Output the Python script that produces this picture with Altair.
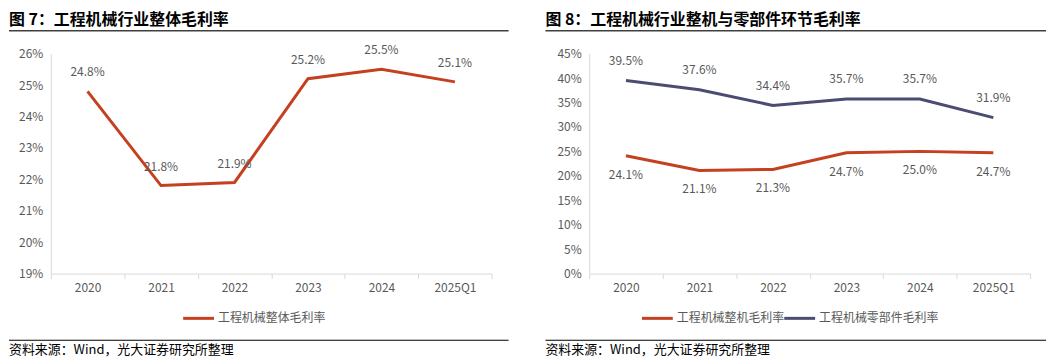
import altair as alt
import pandas as pd

years = ["2020", "2021", "2022", "2023", "2024", "2025Q1"]
overall = [24.8, 21.8, 21.9, 25.2, 25.5, 25.1]
whole_machine = [24.1, 21.1, 21.3, 24.7, 25.0, 24.7]
components = [39.5, 37.6, 34.4, 35.7, 35.7, 31.9]

title_left = "图 7：工程机械行业整体毛利率"
title_right = "图 8：工程机械行业整机与零部件环节毛利率"
source = "资料来源：Wind，光大证券研究所整理"
s_overall = "工程机械整体毛利率"
s_whole = "工程机械整机毛利率"
s_comp = "工程机械零部件毛利率"

RED = "#C5401F"
NAVY = "#4C4C73"
FONT = "Noto Sans CJK SC"
W, H = 443, 221

one = pd.DataFrame({"k": [0]})


def xenc():
    return alt.X("year:N", sort=years, bandPosition=0.5,
                 scale=alt.Scale(type="band", paddingInner=0, paddingOuter=0),
                 axis=alt.Axis(title=None, tickBand="extent", labelAngle=0, tickSize=5,
                               labelPadding=4, labelFontSize=12, labelColor="#595959",
                               domainColor="#D9D9D9", tickColor="#D9D9D9", grid=False,
                               labelFont=FONT, labelOverlap=False))


def yenc(domain, step):
    vals = list(range(domain[0], domain[1] + 1, step))
    return alt.Y("v:Q", scale=alt.Scale(domain=domain, nice=False),
                 axis=alt.Axis(title=None, values=vals, ticks=False, labelPadding=8,
                               labelExpr="datum.value + '%'", labelFontSize=12,
                               labelColor="#595959", domainColor="#D9D9D9", grid=False,
                               labelFont=FONT, labelOverlap=False, labelFlush=False))


def decor(title, left, right, legend_items):
    layers = []
    layers.append(alt.Chart(one).mark_text(align="left", baseline="middle", fontSize=16,
                                           fontWeight="bold", font=FONT, color="#000000")
                  .encode(x=alt.value(left), y=alt.value(-34), text=alt.value(title)))
    layers.append(alt.Chart(one).mark_rule(color="#404040", strokeWidth=1.5)
                  .encode(x=alt.value(left), x2=alt.value(right), y=alt.value(-23)))
    layers.append(alt.Chart(one).mark_rule(color="#000000", strokeWidth=1.2)
                  .encode(x=alt.value(left), x2=alt.value(right), y=alt.value(288)))
    layers.append(alt.Chart(one).mark_text(align="left", baseline="middle", fontSize=13,
                                           font=FONT, color="#000000")
                  .encode(x=alt.value(left), y=alt.value(298), text=alt.value(source)))
    for (lx, name, col) in legend_items:
        layers.append(alt.Chart(one).mark_rule(color=col, strokeWidth=3)
                      .encode(x=alt.value(lx), x2=alt.value(lx + 31), y=alt.value(266)))
        layers.append(alt.Chart(one).mark_text(align="left", baseline="middle", fontSize=12,
                                               font=FONT, color="#595959")
                      .encode(x=alt.value(lx + 35), y=alt.value(266), text=alt.value(name)))
    return layers


# Left panel
df1 = pd.DataFrame({"year": years, "v": overall})
df1["lab"] = [f"{v:.1f}%" for v in overall]
Y1 = ([19, 26], 1)

line1 = alt.Chart(df1).mark_line(color=RED, strokeWidth=3).encode(x=xenc(), y=yenc(*Y1))
text1 = alt.Chart(df1).mark_text(dy=-19, fontSize=12, font=FONT, color="#595959").encode(
    x=xenc(), y=yenc(*Y1), text="lab:N")

left = alt.layer(line1, text1, *decor(title_left, -42, 460, [(133, s_overall, RED)])).properties(
    width=W, height=H)

# Right panel
df2 = pd.DataFrame({"year": years * 2, "v": whole_machine + components,
                    "s": [s_whole] * 6 + [s_comp] * 6})
df2["lab"] = [f"{v:.1f}%" for v in df2["v"]]
Y2 = ([0, 45], 5)

line2 = alt.Chart(df2).mark_line(strokeWidth=3).encode(
    x=xenc(), y=yenc(*Y2),
    color=alt.Color("s:N", scale=alt.Scale(domain=[s_whole, s_comp], range=[RED, NAVY]), legend=None),
    detail="s:N")
text2a = alt.Chart(df2[df2.s == s_comp]).mark_text(dy=-20, fontSize=12, font=FONT, color="#595959").encode(
    x=xenc(), y=yenc(*Y2), text="lab:N")
text2b = alt.Chart(df2[df2.s == s_whole]).mark_text(dy=19, fontSize=12, font=FONT, color="#595959").encode(
    x=xenc(), y=yenc(*Y2), text="lab:N")

right = alt.layer(line2, text2a, text2b,
                  *decor(title_right, -44, 459, [(53, s_whole, RED), (196, s_comp, NAVY)])).properties(
    width=W, height=H)

chart = alt.hconcat(left, right, spacing=35).properties(
    padding={"top": 3, "left": 0, "right": 0, "bottom": 0}).configure(
    font=FONT).configure_view(stroke=None).configure_axis(labelOverlap=False)

chart.save("out.html", embed_options={"renderer": "svg", "actions": False})
